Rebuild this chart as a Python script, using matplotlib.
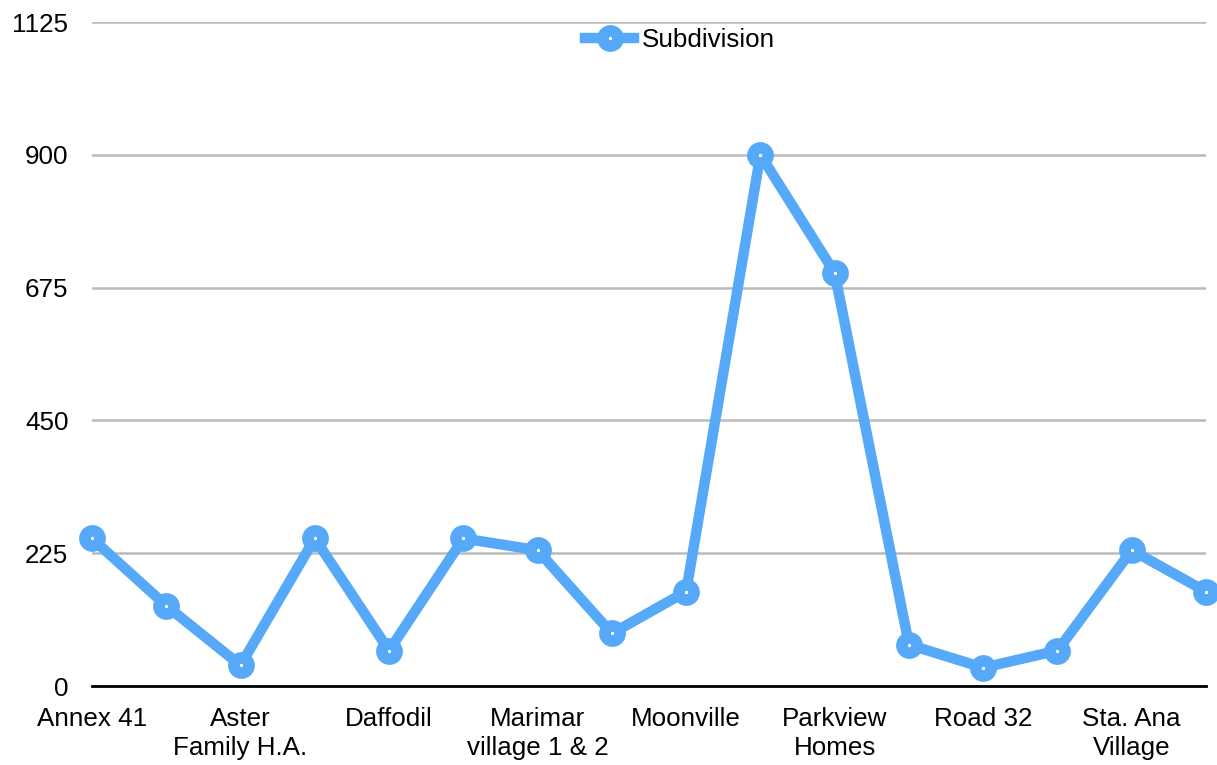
import matplotlib.pyplot as plt
import numpy as np

# subdivisions (only every other name is printed on the axis)
categories = ['Annex 41', '', 'Aster\nFamily H.A.', '', 'Daffodil', '',
              'Marimar\nvillage 1 & 2', '', 'Moonville', '', 'Parkview\nHomes', '',
              'Road 32', '', 'Sta. Ana\nVillage', '']
values = [250, 136, 35, 250, 60, 250, 230, 89, 160, 900, 700, 70, 31, 60, 230, 160]
y_ticks = [0, 225, 450, 675, 900, 1125]

plt.rcParams['font.family'] = ['Liberation Sans', 'DejaVu Sans']

fig = plt.figure(figsize=(12.17, 7.65), dpi=100)
ax = fig.add_axes([92 / 1217, 1 - 686 / 765, (1206 - 92) / 1217, (686 - 22) / 765])

x = np.arange(len(values))
blue = '#55A9F8'
ax.plot(x, values, color=blue, lw=7.5, marker='o', markersize=11,
        markerfacecolor='white', markeredgecolor=blue, markeredgewidth=8.3,
        label='Subdivision', zorder=3, clip_on=False)

ax.set_xlim(0, len(values) - 1)
ax.set_ylim(0, 1125)
ax.set_yticks(y_ticks)
ax.set_yticklabels([str(v) for v in y_ticks])
ax.set_xticks(x[::2])
ax.set_xticklabels(categories[::2], linespacing=1.25)

ax.grid(axis='y', color='#BBBBBB', lw=1.8)
ax.set_axisbelow(True)
for s in ['top', 'right', 'left']:
    ax.spines[s].set_visible(False)
ax.spines['bottom'].set_color('black')
ax.spines['bottom'].set_linewidth(2)
ax.spines['bottom'].set_zorder(2)

ax.tick_params(axis='y', length=0, pad=17, labelsize=18.7)
ax.tick_params(axis='x', length=0, pad=15, labelsize=18.7)

fig.legend(loc='center', bbox_to_anchor=(680 / 1217, 1 - 40 / 765), frameon=False,
           fontsize=18.7, handlelength=1.9, handletextpad=0.3)

fig.savefig('out.png', dpi=100)
